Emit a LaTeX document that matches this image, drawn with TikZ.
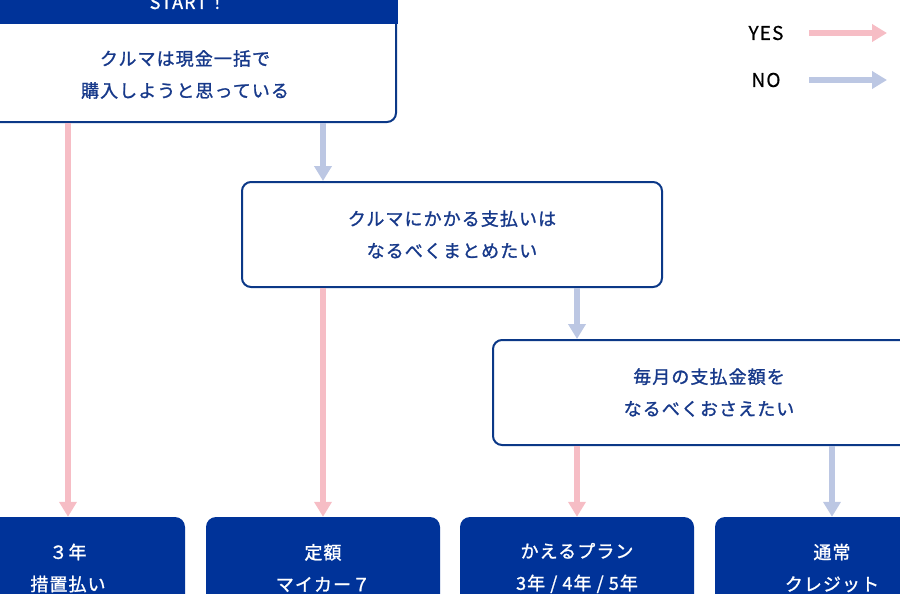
\documentclass[tikz,border=0pt]{standalone}
\usepackage{fontspec}
\setmainfont{Noto Sans CJK JP}
\usetikzlibrary{arrows.meta}
\definecolor{navy}{HTML}{003399}
\definecolor{bordercol}{HTML}{0B3887}
\definecolor{txtblue}{HTML}{17398A}
\definecolor{yescol}{HTML}{F6BDC5}
\definecolor{nocol}{HTML}{BCC7E3}
\newcommand\jtext{\fontsize{18}{32}\selectfont\addfontfeature{LetterSpace=6,FakeBold=1.2}}
\begin{document}
\begin{tikzpicture}[x=1pt,y=-1pt,
  qbox/.style={draw=bordercol, line width=2pt, rounded corners=9pt, fill=white, inner sep=0pt},
  abox/.style={fill=navy, rounded corners=10pt, minimum width=234pt, minimum height=102pt, inner sep=0pt, text=white, font=\jtext, align=center},
  qtext/.style={text=txtblue, font=\jtext, align=center},
  yesarrow/.style={draw=yescol, line width=6pt, -{Triangle[width=17pt,length=15pt]}},
  noarrow/.style={draw=nocol, line width=6pt, -{Triangle[width=17pt,length=15pt]}},
  legtext/.style={text=black, font=\fontsize{19}{22}\selectfont\addfontfeature{LetterSpace=6,FakeBold=0.5}}]
\useasboundingbox (0,0) rectangle (900,594);
\clip (0,0) rectangle (900,594);
% start box
\node[qbox, minimum width=424pt, minimum height=180pt, anchor=south east] (start) at (397,123) {};
\coordinate (hb) at (398,24);
\fill[navy] ([shift={(-2pt,-2pt)}]start.north west) rectangle (hb);
\node[text=white, font=\jtext, anchor=base] (starttxt) at (188,9) {START！};
\node[qtext] (q1) at (185,74.5) {クルマは現金一括で\\購入しようと思っている};
% question 2
\node[qbox, minimum width=420pt, minimum height=105pt, qtext] (q2) at (452,234.5) {クルマにかかる支払いは\\なるべくまとめたい};
% question 3
\node[qbox, minimum width=432pt, minimum height=105pt, qtext] (q3) at (709,392.5) {毎月の支払金額を\\なるべくおさえたい};
% answers
\node[abox] (a1) at (68,568) {３年\\措置払い};
\node[abox] (a2) at (323,568) {定額\\マイカー７};
\node[abox] (a3) at (577,568) {かえるプラン\\3年 / 4年 / 5年};
\node[abox] (a4) at (832,568) {通常\\クレジット};
% arrows
\draw[yesarrow] (start.south -| a1.north) -- (a1.north);
\draw[noarrow] (start.south -| a2.north) -- (q2.north -| a2.north);
\draw[yesarrow] (q2.south -| a2.north) -- (a2.north);
\draw[noarrow] (q2.south -| a3.north) -- (q3.north -| a3.north);
\draw[yesarrow] (q3.south -| a3.north) -- (a3.north);
\draw[noarrow] (q3.south -| a4.north) -- (a4.north);
% legend
\node[legtext] (yes) at (766,33) {YES};
\node[legtext] (no) at (766,80) {NO};
\coordinate (yesA) at (809,33);
\coordinate (yesB) at (887,33);
\coordinate (noA) at (809,80);
\coordinate (noB) at (887,80);
\draw[yesarrow] (yesA) -- (yesB);
\draw[noarrow] (noA) -- (noB);
\end{tikzpicture}
\end{document}
